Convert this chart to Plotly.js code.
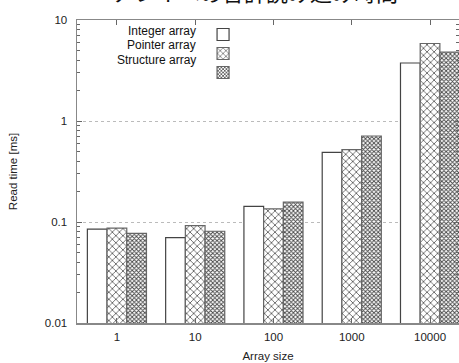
<!DOCTYPE html>
<html>
<head>
<meta charset="utf-8">
<script src="https://cdn.plot.ly/plotly-3.0.1.min.js"></script>
<style>html,body{margin:0;padding:0;background:#fff;}#chart{width:459px;height:363px;}</style>
</head>
<body>
<div id="chart"></div>
<script>
var chartTitle = "アレイへの合計読み込み時間";
var categories = ["1", "10", "100", "1000", "10000"];
var seriesNames = ["Integer array", "Pointer array", "Structure array"];
var integerArray = [0.085, 0.070, 0.143, 0.49, 3.75];
var pointerArray = [0.087, 0.092, 0.135, 0.52, 5.85];
var structureArray = [0.077, 0.081, 0.157, 0.71, 4.8];
var yTickVals = [0.01, 0.1, 1, 10];
var yTickText = ["0.01", "0.1", "1", "10"];
var xTitle = "Array size";
var yTitle = "Read time [ms]";

var traces = [
  {type: "bar", x: categories, y: integerArray, name: "", showlegend: true,
   marker: {color: "#ffffff", line: {color: "#444", width: 1.2}}},
  {type: "bar", x: categories, y: pointerArray, name: "", showlegend: true,
   marker: {color: "#ffffff", line: {color: "#666", width: 1.2},
            pattern: {shape: "x", size: 5, solidity: 0.25, fgcolor: "#333", bgcolor: "#ffffff"}}},
  {type: "bar", x: categories, y: structureArray, name: "", showlegend: true,
   marker: {color: "#ffffff", line: {color: "#666", width: 1.2},
            pattern: {shape: "x", size: 3, solidity: 0.5, fgcolor: "#444", bgcolor: "#ffffff"}}}
];

var annotations = seriesNames.map(function (n, i) {
  return {text: n, xref: "paper", yref: "paper", x: 0.318, y: 0.965 - i * 0.049,
          xanchor: "right", yanchor: "middle", showarrow: false,
          font: {family: "Liberation Sans, Arial, sans-serif", size: 12, color: "#111"}};
});
annotations.push({text: chartTitle, xref: "paper", yref: "paper", x: 0.466, y: 1,
                  xanchor: "center", yanchor: "bottom", yshift: 11, showarrow: false,
                  font: {family: "Noto Sans CJK JP", size: 22, color: "#111"}});

var layout = {
  width: 459, height: 363,
  margin: {l: 77, r: 0, t: 20, b: 40},
  paper_bgcolor: "#fff", plot_bgcolor: "#fff",
  font: {family: "Liberation Sans, Arial, sans-serif", size: 11.5, color: "#222"},
  barmode: "group", bargap: 0.245, bargroupgap: 0,
  showlegend: true,
  legend: {x: 0.33, y: 1.0, xanchor: "left", yanchor: "top", bgcolor: "rgba(0,0,0,0)",
           traceorder: "normal", font: {size: 11}, itemwidth: 30, tracegroupgap: 0},
  annotations: annotations,
  xaxis: {type: "category", range: [-0.51, 4.37], ticks: "inside", ticklen: 5, tickcolor: "#666",
          showline: true, linecolor: "#888", linewidth: 1.5, mirror: "ticks", showgrid: false,
          ticklabelstandoff: 3,
          title: {text: xTitle, standoff: 9, font: {size: 11.5}}},
  yaxis: {type: "log", range: [-2, 1], tickvals: yTickVals, ticktext: yTickText,
          ticks: "inside", ticklen: 5, tickcolor: "#666",
          minor: {ticks: "inside", ticklen: 3, tickcolor: "#666", dtick: "D1", showgrid: false},
          showline: true, linecolor: "#888", linewidth: 1.5, mirror: "ticks",
          showgrid: true, gridcolor: "#bbb", griddash: "dot", gridwidth: 1, zeroline: false,
          ticklabelstandoff: 6,
          title: {text: yTitle, standoff: 25, font: {size: 11.5}}}
};

Plotly.newPlot("chart", traces, layout, {displayModeBar: false, staticPlot: true});
</script>
</body>
</html>
